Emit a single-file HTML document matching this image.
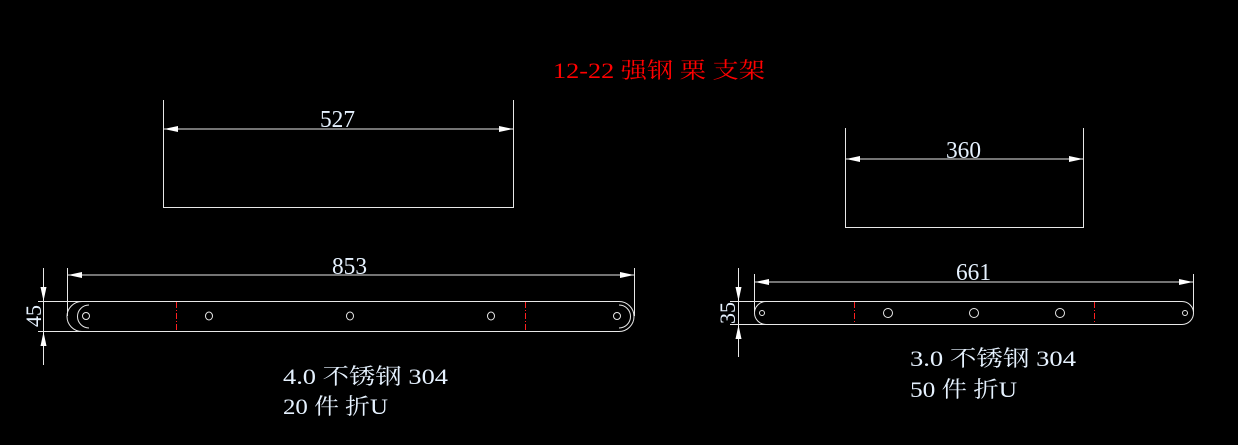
<!DOCTYPE html>
<html><head><meta charset="utf-8"><style>
html,body{margin:0;padding:0;background:#000;}
svg{display:block}
text{font-family:"Liberation Serif","Noto Serif CJK SC",serif;}
</style></head><body>
<svg width="1238" height="445" viewBox="0 0 1238 445" xmlns="http://www.w3.org/2000/svg">
<rect width="1238" height="445" fill="#000"/>
<text x="553" y="78" font-size="22" fill="#ff0000" textLength="212" lengthAdjust="spacingAndGlyphs">12-22 强钢 栗 支架</text>

<g stroke="#e8e8e8" stroke-width="1" fill="none">
<path d="M163.5 100V207.5H513.5V100"/>
<path d="M164 129H513"/>
<path d="M845.5 128V227.5H1083.5V128"/>
<path d="M846 159H1083"/>
<path d="M67.5 268V316"/><path d="M634.5 268V316"/>
<path d="M68 275H634"/>
<path d="M38 301.5H619 A15 15 0 0 1 619 331.5 H38"/>
<path d="M82 301.5 A15 15 0 0 0 82 331.5"/>
<path d="M89 305 A11 11 0 0 0 89 328"/>
<path d="M619 305 A11 11 0 0 1 619 328"/>
<circle cx="86" cy="316" r="3.5"/><circle cx="617" cy="316" r="3.5"/>
<ellipse cx="209" cy="316" rx="3.5" ry="4"/>
<ellipse cx="350" cy="316" rx="3.5" ry="4"/>
<ellipse cx="491" cy="316" rx="3.5" ry="4"/>
<path d="M43.5 268V365"/>
<path d="M754.5 274V312"/><path d="M1193.5 274V312"/>
<path d="M755 282H1193"/>
<path d="M730 301.5H1182 A11.5 11.5 0 0 1 1182 324.5 H730"/>
<path d="M766 301.5 A11.5 11.5 0 0 0 766 324.5"/>
<circle cx="762" cy="313" r="2.5"/><circle cx="1185" cy="313" r="2.5"/>
<circle cx="888" cy="313" r="4.5"/><circle cx="974" cy="313" r="4.5"/><circle cx="1060" cy="313" r="4.5"/>
<path d="M738.5 268V357"/>
</g>
<g stroke="#ff2020" stroke-width="1" stroke-dasharray="6,2,1,2">
<path d="M176.5 302V331"/><path d="M525.5 302V331"/>
<path d="M854.5 302V324"/><path d="M1094.5 302V324"/>
</g>
<g fill="#fff">
<path d="M164 129l14 -3v6z"/><path d="M513 129l-14 -3v6z"/>
<path d="M846 159l14 -3v6z"/><path d="M1083 159l-14 -3v6z"/>
<path d="M68 275l14 -3v6z"/><path d="M634 275l-14 -3v6z"/>
<path d="M755 282l14 -3v6z"/><path d="M1193 282l-14 -3v6z"/>
<path d="M43.5 301l-3 -14h6z"/><path d="M43.5 332l-3 14h6z"/>
<path d="M738.5 301l-3 -14h6z"/><path d="M738.5 325l-3 14h6z"/>
</g>
<g fill="#e6f2ff" font-size="24">
<text x="320" y="127" textLength="35" lengthAdjust="spacingAndGlyphs">527</text>
<text x="946" y="158" textLength="35" lengthAdjust="spacingAndGlyphs">360</text>
<text x="332" y="274" textLength="35" lengthAdjust="spacingAndGlyphs">853</text>
<text x="956" y="280" textLength="35" lengthAdjust="spacingAndGlyphs">661</text>
<text transform="translate(41,316) rotate(-90)" text-anchor="middle" font-size="22">45</text>
<text transform="translate(735,313) rotate(-90)" text-anchor="middle" font-size="22">35</text>
</g>
<g fill="#e6f2ff" font-size="22">
<text x="283" y="384" textLength="165" lengthAdjust="spacingAndGlyphs">4.0 不锈钢 304</text>
<text x="283" y="414" textLength="105" lengthAdjust="spacingAndGlyphs">20 件 折U</text>
<text x="910" y="366" textLength="166" lengthAdjust="spacingAndGlyphs">3.0 不锈钢 304</text>
<text x="910" y="397" textLength="107" lengthAdjust="spacingAndGlyphs">50 件 折U</text>
</g>
</svg>
</body></html>
